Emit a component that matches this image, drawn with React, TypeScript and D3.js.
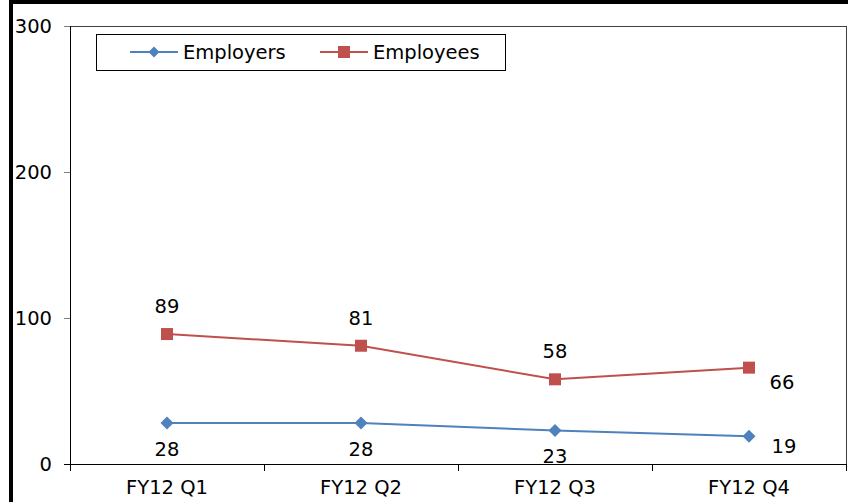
import React from "react";
import * as d3 from "d3";

const categories = ["FY12 Q1", "FY12 Q2", "FY12 Q3", "FY12 Q4"];
const employers = [28, 28, 23, 19];
const employees = [89, 81, 58, 66];
const yTicks = [0, 100, 200, 300];

const W = 848, H = 502;
const L = 70, R = 846, T = 26, B = 464;
const FONT = "'DejaVu Sans', Verdana, sans-serif";
const FS = 19.5;
const BLUE = "#4F81BD", RED = "#C0504D";

export default function App() {
  const x = d3.scaleBand<string>().domain(categories).range([L, R]);
  const y = d3.scaleLinear().domain([0, 300]).range([B, T]);
  const cx = (c: string) => (x(c) as number) + x.bandwidth() / 2;
  const line = d3.line<number>().x((_, i) => cx(categories[i])).y((d) => y(d));

  const diamond = (px: number, py: number, s = 6.5) =>
    `M${px},${py - s}L${px + s},${py}L${px},${py + s}L${px - s},${py}Z`;

  return (
    <svg width={W} height={H} style={{ position: "absolute", left: 0, top: 0, background: "#fff" }} fontFamily={FONT}>
      <rect x={0} y={0} width={W} height={H} fill="#fff" />
      {/* outer thick border */}
      <rect x={9} y={0} width={4} height={H} fill="#000" />
      <rect x={9} y={0} width={W - 9} height={4} fill="#000" />
      {/* plot frame */}
      <line x1={L} x2={R} y1={T + 0.5} y2={T + 0.5} stroke="#404040" strokeWidth={1} />
      <line x1={R + 0.5} x2={R + 0.5} y1={T} y2={B} stroke="#404040" strokeWidth={1} />
      {/* y axis */}
      <line x1={L + 0.5} x2={L + 0.5} y1={T} y2={B} stroke="#000" strokeWidth={1} />
      {yTicks.map((t) => (
        <g key={t}>
          <line x1={L - 6} x2={L} y1={Math.round(y(t)) + 0.5} y2={Math.round(y(t)) + 0.5} stroke={t === 0 ? "#000" : "#808080"} />
          <text x={52} y={y(t)} dy="0.35em" textAnchor="end" fontSize={FS} fill="#000">{t}</text>
        </g>
      ))}
      {/* x axis */}
      <line x1={L} x2={R + 1} y1={B + 0.5} y2={B + 0.5} stroke="#000" strokeWidth={1} />
      {categories.map((c, i) => (
        <line key={"t" + i} x1={Math.round(x(c) as number) + 0.5} x2={Math.round(x(c) as number) + 0.5} y1={B} y2={B + 7} stroke="#000" />
      ))}
      <line x1={R + 0.5} x2={R + 0.5} y1={B} y2={B + 7} stroke="#000" />
      {categories.map((c) => (
        <text key={c} x={cx(c)} y={494} textAnchor="middle" fontSize={FS} fill="#000">{c}</text>
      ))}
      {/* series lines */}
      <path d={line(employers) as string} fill="none" stroke={BLUE} strokeWidth={2} />
      <path d={line(employees) as string} fill="none" stroke={RED} strokeWidth={2} />
      {employers.map((v, i) => (
        <path key={"d" + i} d={diamond(cx(categories[i]), y(v))} fill={BLUE} />
      ))}
      {employees.map((v, i) => (
        <rect key={"s" + i} x={cx(categories[i]) - 6} y={y(v) - 6} width={12} height={12} fill={RED} />
      ))}
      {/* data labels */}
      {employers.map((v, i) =>
        i === 3 ? (
          <text key={"le" + i} x={cx(categories[i]) + 35} y={y(v) + 10} dy="0.35em" textAnchor="middle" fontSize={FS}>{v}</text>
        ) : (
          <text key={"le" + i} x={cx(categories[i])} y={y(v) + 26} dy="0.35em" textAnchor="middle" fontSize={FS}>{v}</text>
        )
      )}
      {employees.map((v, i) =>
        i === 3 ? (
          <text key={"lm" + i} x={cx(categories[i]) + 33} y={y(v) + 15} dy="0.35em" textAnchor="middle" fontSize={FS}>{v}</text>
        ) : (
          <text key={"lm" + i} x={cx(categories[i])} y={y(v) - 28} dy="0.35em" textAnchor="middle" fontSize={FS}>{v}</text>
        )
      )}
      {/* legend */}
      <rect x={96.5} y={34.5} width={409} height={36} fill="#fff" stroke="#000" strokeWidth={1} />
      <line x1={130} x2={178} y1={52} y2={52} stroke={BLUE} strokeWidth={2} />
      <path d={diamond(154, 52, 5.5)} fill={BLUE} />
      <text x={183} y={52} dy="0.35em" fontSize={FS}>Employers</text>
      <line x1={320} x2={368} y1={52} y2={52} stroke={RED} strokeWidth={2} />
      <rect x={338} y={46} width={12} height={12} fill={RED} />
      <text x={373} y={52} dy="0.35em" fontSize={FS}>Employees</text>
    </svg>
  );
}
